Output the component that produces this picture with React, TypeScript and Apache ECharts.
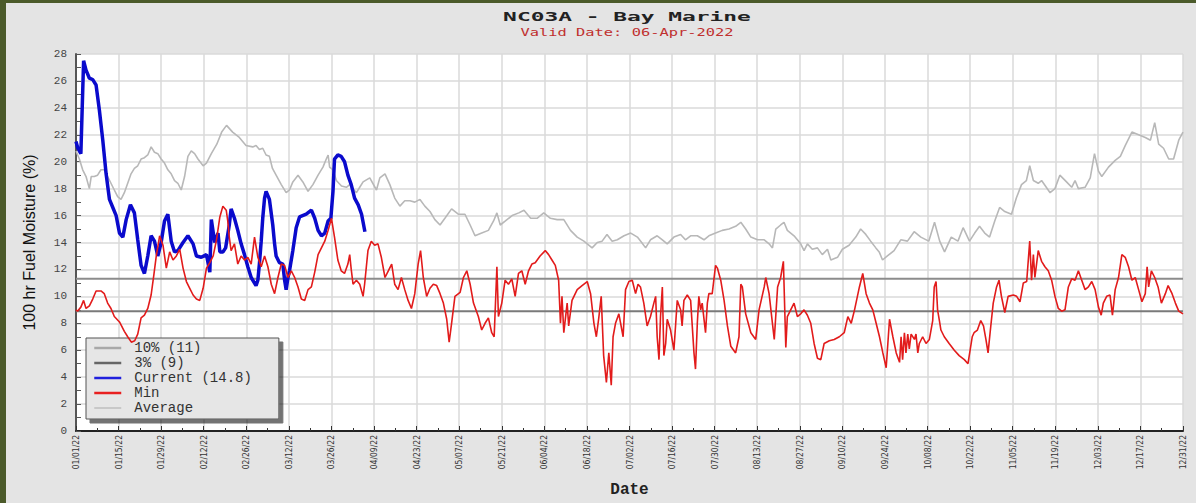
import React, { useEffect, useRef } from "react";
import * as echarts from "echarts";

const tickLabels: string[] = [
  "01/01/22", "01/15/22", "01/29/22", "02/12/22", "02/26/22", "03/12/22", "03/26/22",
  "04/09/22", "04/23/22", "05/07/22", "05/21/22", "06/04/22", "06/18/22", "07/02/22",
  "07/16/22", "07/30/22", "08/13/22", "08/27/22", "09/10/22", "09/24/22", "10/08/22",
  "10/22/22", "11/05/22", "11/19/22", "12/03/22", "12/17/22", "12/31/22",
];

const seriesNames: string[] = ["10% (11)", "3% (9)", "Current (14.8)", "Min", "Average"];

// [day of year (0 = 01/01/22), value]
const pct10Line: [number, number][] = [[0, 11.3], [364, 11.3]];
const pct3Line: [number, number][] = [[0, 8.9], [364, 8.9]];

const currentPoints: [number, number][] = [
  [0, 21.5], [0.6, 21.0], [1.6, 20.6], [2.5, 27.5], [3.3, 26.8], [4.4, 26.2], [5.5, 26.1], [6.6, 25.7],
  [7.7, 23.8], [8.8, 21.6], [9.9, 19.1], [11.0, 17.2], [12.1, 16.6], [13.2, 16.0], [14.3, 14.7], [15.4, 14.4],
  [16.5, 15.7], [17.9, 16.8], [19.2, 16.2], [20.3, 14.2], [21.4, 12.3], [22.5, 11.7], [23.6, 13.0], [24.7, 14.5],
  [25.8, 14.1], [26.9, 13.0], [28.0, 14.0], [29.1, 15.6], [30.2, 16.1], [31.3, 14.1], [32.4, 13.3], [33.5, 13.4],
  [35.2, 14.0], [36.8, 14.5], [38.5, 13.9], [39.6, 13.0], [41.2, 12.9], [42.9, 13.1], [44.0, 11.8], [44.5, 15.7],
  [45.6, 14.0], [46.7, 14.7], [47.3, 13.3], [48.3, 13.3], [49.2, 13.6], [50.4, 15.3], [51.0, 16.5], [52.1, 15.8],
  [53.2, 14.9], [54.3, 13.9], [55.4, 13.1], [56.5, 12.2], [57.6, 11.4], [59.2, 10.8], [59.8, 11.2], [60.3, 12.4],
  [60.9, 14.1], [61.4, 15.8], [62.0, 17.3], [62.5, 17.8], [63.6, 17.2], [64.7, 15.3], [65.3, 13.9], [65.8, 13.0],
  [66.9, 12.5], [68.0, 12.4], [68.6, 11.2], [69.1, 10.5], [69.7, 11.4], [70.2, 11.9], [71.3, 13.4], [72.4, 15.1],
  [73.5, 15.9], [75.7, 16.1], [77.4, 16.4], [78.5, 15.8], [79.6, 14.9], [80.7, 14.5], [81.8, 14.7], [82.9, 15.6],
  [83.8, 15.8], [84.5, 17.8], [85.0, 20.2], [86.1, 20.5], [87.2, 20.4], [88.3, 20.0], [89.4, 19.0], [90.5, 18.3],
  [91.6, 17.3], [92.8, 16.8], [93.9, 16.1], [95.0, 14.8],
];

const minPoints: [number, number][] = [
  [0, 9.0], [0.5, 8.9], [1.6, 9.2], [2.5, 9.7], [3.3, 9.1], [4.4, 9.3], [5.5, 9.8], [6.6, 10.4], [8.2, 10.4],
  [9.3, 10.2], [10.4, 9.5], [11.5, 9.1], [12.6, 8.5], [14.3, 8.1], [15.9, 7.4], [17.0, 7.0], [18.2, 6.6],
  [19.3, 6.7], [20.3, 7.2], [21.4, 8.4], [22.5, 8.6], [23.6, 9.1], [24.7, 10.1], [25.6, 11.6], [26.4, 13.0],
  [27.5, 14.5], [28.6, 13.8], [29.7, 12.1], [30.8, 13.3], [31.9, 12.7], [33.0, 13.0], [34.1, 13.5], [35.2, 12.1],
  [36.3, 11.1], [37.4, 10.6], [38.5, 10.1], [39.6, 9.8], [40.7, 9.7], [41.8, 10.6], [42.9, 12.1], [44.0, 12.5],
  [45.1, 13.0], [46.2, 14.2], [47.3, 15.9], [48.3, 16.7], [49.4, 16.4], [49.9, 15.6], [50.4, 14.4], [51.0, 13.4],
  [52.1, 13.9], [53.2, 12.4], [54.3, 13.0], [55.4, 12.7], [56.5, 12.9], [57.6, 12.4], [58.7, 14.4], [59.8, 12.9],
  [60.9, 12.2], [62.0, 13.0], [63.1, 12.2], [64.2, 10.9], [65.3, 10.2], [66.4, 11.4], [67.5, 12.4], [68.6, 12.3],
  [69.7, 11.4], [70.8, 11.9], [71.9, 11.4], [73.0, 10.7], [74.1, 9.8], [75.2, 9.7], [76.3, 10.5], [77.4, 10.7],
  [78.5, 11.8], [79.6, 13.1], [80.7, 13.6], [81.8, 14.1], [82.9, 14.9], [84.0, 15.8], [85.0, 14.4], [86.1, 12.7],
  [87.2, 11.9], [88.3, 11.7], [89.4, 12.4], [90.0, 13.1], [90.5, 12.0], [91.1, 10.9], [92.2, 11.2], [93.3, 10.9],
  [94.4, 10.0], [94.9, 10.9], [96.0, 13.4], [97.1, 14.1], [98.2, 13.8], [99.3, 13.9], [100.4, 12.9], [101.6, 11.4],
  [102.7, 11.9], [103.8, 12.4], [104.8, 10.9], [105.9, 10.5], [107.0, 11.4], [108.1, 10.5], [109.2, 9.7],
  [110.3, 9.1], [111.4, 10.2], [112.5, 12.4], [113.3, 13.4], [114.2, 11.4], [115.3, 10.0], [116.4, 10.6],
  [117.5, 10.9], [118.6, 10.8], [119.7, 10.2], [120.8, 9.5], [121.9, 8.3], [122.7, 6.6], [123.5, 8.0],
  [124.6, 10.0], [126.3, 10.3], [127.4, 11.4], [128.5, 11.9], [129.6, 10.9], [130.7, 9.5], [132.3, 8.5],
  [133.4, 7.5], [134.5, 8.0], [135.6, 8.4], [136.7, 7.3], [137.5, 7.0], [138.4, 12.2], [138.9, 8.5], [140.0, 9.5],
  [141.1, 11.2], [142.2, 10.9], [143.3, 11.3], [144.4, 10.0], [145.5, 11.7], [146.6, 11.9], [147.7, 10.9],
  [148.8, 11.9], [149.9, 12.4], [151.0, 12.5], [152.6, 13.0], [154.3, 13.4], [155.4, 13.1], [156.5, 12.7],
  [157.6, 12.3], [158.7, 11.2], [159.3, 8.0], [159.8, 10.0], [160.4, 7.3], [161.5, 9.5], [162.0, 7.8],
  [163.1, 9.7], [164.8, 10.5], [166.4, 10.8], [168.1, 11.1], [169.2, 10.2], [170.3, 8.0], [171.1, 7.0],
  [171.9, 8.4], [172.7, 10.0], [173.5, 5.6], [174.4, 3.6], [175.2, 5.8], [176.0, 3.4], [176.6, 7.0], [177.4, 8.0],
  [178.5, 8.7], [179.9, 7.0], [180.7, 10.5], [181.8, 11.1], [182.9, 11.2], [184.0, 10.2], [184.8, 10.9],
  [185.6, 10.7], [186.7, 9.5], [187.8, 7.8], [188.9, 8.5], [190.0, 9.5], [190.6, 10.0], [191.1, 7.0], [191.7, 5.3],
  [192.2, 8.5], [192.8, 10.7], [193.3, 5.6], [193.9, 6.5], [194.4, 8.3], [195.5, 7.5], [196.6, 6.0], [197.2, 8.0],
  [197.7, 9.7], [198.8, 9.0], [199.3, 7.8], [199.9, 9.7], [201.0, 10.1], [202.1, 9.7], [203.2, 5.8], [203.7, 4.6],
  [204.3, 8.0], [204.8, 10.0], [205.4, 9.0], [205.9, 9.5], [207.0, 7.3], [207.6, 9.5], [208.1, 10.2], [209.2, 10.2],
  [210.3, 12.3], [210.9, 12.1], [212.0, 11.2], [213.1, 9.7], [214.2, 7.8], [215.3, 6.3], [216.9, 5.8], [218.0, 7.0],
  [218.6, 10.9], [219.1, 10.7], [220.2, 8.7], [221.9, 7.3], [223.5, 6.8], [224.6, 9.0], [226.3, 10.7],
  [226.8, 11.4], [227.9, 10.2], [229.0, 8.0], [229.6, 6.8], [230.7, 10.7], [231.7, 11.4], [232.6, 12.6],
  [233.4, 6.2], [233.9, 8.5], [235.0, 9.0], [236.1, 9.5], [237.2, 8.5], [238.3, 8.7], [239.4, 9.0], [240.5, 8.6],
  [241.6, 8.0], [242.7, 6.5], [243.8, 5.4], [244.9, 5.3], [246.0, 6.5], [247.7, 6.7], [249.3, 6.8], [251.0, 7.0],
  [252.6, 7.3], [253.8, 8.5], [254.9, 8.0], [256.0, 9.0], [257.6, 10.7], [258.7, 11.7], [259.8, 10.2],
  [260.9, 9.5], [262.0, 9.0], [263.1, 8.0], [264.2, 7.0], [265.3, 5.8], [266.4, 4.7], [267.5, 8.3], [268.6, 7.0],
  [269.7, 5.8], [270.8, 5.1], [271.3, 7.0], [271.8, 5.3], [272.4, 7.3], [272.9, 5.8], [273.5, 7.2], [274.0, 6.1],
  [274.6, 7.2], [275.7, 6.8], [276.2, 7.2], [276.8, 5.8], [277.3, 6.5], [278.4, 7.0], [279.5, 6.5], [280.6, 6.8],
  [281.7, 8.2], [282.2, 10.7], [282.8, 11.1], [283.3, 9.0], [283.9, 8.2], [284.4, 7.5], [285.5, 7.0],
  [287.1, 6.5], [288.8, 6.0], [290.4, 5.6], [292.1, 5.3], [293.3, 5.0], [294.7, 7.0], [295.3, 7.3], [296.4, 7.5],
  [297.5, 8.2], [298.4, 7.8], [299.2, 6.8], [299.9, 5.8], [300.8, 7.8], [301.6, 9.5], [302.7, 10.7],
  [303.5, 11.2], [304.3, 10.0], [305.4, 8.8], [306.5, 10.0], [308.2, 10.1], [309.3, 10.0], [310.4, 9.6],
  [311.5, 11.0], [312.6, 11.1], [313.6, 14.1], [314.2, 11.2], [314.8, 13.1], [315.3, 11.4], [316.4, 13.4],
  [317.5, 12.6], [318.6, 12.2], [319.7, 11.9], [320.8, 11.2], [321.9, 10.0], [323.0, 9.1], [324.1, 8.9],
  [325.2, 9.0], [326.3, 10.7], [327.4, 11.3], [328.5, 11.2], [329.6, 11.9], [330.7, 11.2], [331.8, 10.5],
  [332.9, 10.7], [334.0, 11.1], [335.1, 10.5], [336.2, 9.2], [337.1, 8.6], [337.8, 9.5], [338.9, 10.0],
  [340.0, 10.1], [340.8, 8.6], [341.7, 10.5], [342.8, 11.4], [343.9, 13.1], [345.0, 12.9], [346.1, 12.2],
  [347.2, 11.2], [348.3, 11.4], [349.4, 10.5], [350.5, 9.6], [351.6, 10.2], [352.2, 12.2], [352.7, 10.7],
  [353.6, 11.9], [354.7, 11.4], [355.8, 10.7], [356.9, 9.5], [358.2, 10.2], [359.1, 10.8], [360.4, 10.2],
  [361.5, 9.5], [362.6, 8.9], [364.0, 8.7],
];

const averagePoints: [number, number][] = [
  [0, 20.8], [1.1, 20.2], [2.2, 19.4], [3.3, 18.9], [4.4, 18.0], [5.0, 18.9], [6.0, 18.9], [7.1, 19.0],
  [8.2, 19.4], [9.3, 19.4], [10.4, 18.9], [11.5, 18.4], [12.6, 17.9], [13.7, 17.4], [14.8, 17.2], [15.9, 17.7],
  [17.0, 18.4], [18.1, 19.1], [19.2, 19.5], [20.3, 19.7], [21.4, 20.2], [22.5, 20.3], [23.6, 20.5], [24.7, 21.1],
  [25.8, 20.7], [26.9, 20.6], [28.0, 20.2], [29.1, 19.9], [30.2, 19.4], [31.3, 19.1], [32.4, 18.6], [33.5, 18.4],
  [34.6, 17.9], [35.7, 18.9], [36.8, 20.4], [37.9, 20.8], [39.0, 20.6], [40.1, 20.2], [41.8, 19.7], [42.9, 19.9],
  [44.5, 20.6], [46.3, 21.3], [47.9, 22.2], [49.5, 22.7], [51.5, 22.2], [53.7, 21.8], [55.9, 21.2], [58.1, 21.1],
  [59.2, 21.2], [60.3, 20.9], [61.4, 21.0], [62.5, 20.5], [63.6, 20.4], [64.6, 19.5], [65.8, 19.0], [67.5, 18.3],
  [69.1, 17.7], [70.2, 17.9], [71.3, 18.5], [73.0, 19.0], [74.6, 18.5], [76.3, 17.8], [77.9, 18.3], [79.6, 19.0],
  [81.2, 19.6], [82.3, 20.2], [82.9, 20.5], [83.4, 19.6], [84.5, 19.4], [85.6, 18.6], [87.3, 18.2], [88.9, 18.1],
  [90.0, 18.3], [91.1, 18.0], [92.2, 17.7], [93.3, 18.1], [94.4, 18.5], [96.6, 18.8], [98.8, 17.9], [99.9, 18.8],
  [101.6, 19.1], [103.2, 18.3], [104.8, 17.3], [106.5, 16.7], [108.1, 17.1], [109.8, 17.1], [111.4, 17.0],
  [113.1, 17.2], [114.7, 16.7], [116.4, 16.3], [118.0, 15.7], [119.7, 15.3], [121.3, 15.8], [123.5, 16.5],
  [125.7, 16.1], [127.9, 16.1], [129.6, 15.3], [131.2, 14.5], [133.4, 14.7], [135.6, 14.9], [137.3, 15.6],
  [138.4, 16.2], [139.5, 15.3], [141.2, 15.6], [143.4, 16.0], [145.6, 16.2], [147.3, 16.4], [149.5, 15.8],
  [151.6, 15.8], [153.8, 16.2], [156.0, 15.8], [158.2, 15.7], [160.4, 15.7], [162.6, 14.9], [164.8, 14.4],
  [167.0, 14.1], [169.7, 13.6], [171.4, 14.0], [173.0, 14.1], [174.6, 14.6], [176.3, 14.1], [178.0, 14.2],
  [180.2, 14.5], [182.4, 14.7], [184.6, 14.4], [186.0, 14.0], [187.3, 13.6], [188.9, 14.2], [191.1, 14.5],
  [192.8, 14.2], [194.4, 13.9], [196.6, 14.4], [198.8, 14.6], [200.4, 14.2], [202.1, 14.5], [204.3, 14.5],
  [206.5, 14.2], [208.1, 14.5], [210.3, 14.7], [212.5, 14.9], [214.7, 15.0], [216.9, 15.2], [218.6, 15.5],
  [220.2, 15.0], [221.9, 14.4], [224.1, 14.2], [226.3, 14.2], [227.9, 13.9], [229.0, 13.6], [230.1, 15.0],
  [231.7, 15.3], [232.8, 15.5], [233.9, 14.9], [236.1, 14.5], [238.3, 13.9], [239.4, 13.4], [240.5, 13.9],
  [242.1, 13.5], [243.8, 13.6], [245.4, 13.1], [247.1, 13.5], [248.2, 12.7], [250.4, 12.9], [252.0, 13.5],
  [254.2, 13.8], [256.4, 14.4], [258.0, 15.0], [259.7, 14.6], [261.3, 14.1], [263.0, 13.6], [264.1, 13.3],
  [265.2, 12.7], [266.8, 13.0], [269.0, 13.4], [271.2, 14.2], [273.4, 14.1], [275.6, 14.8], [277.8, 14.4],
  [280.4, 14.1], [282.3, 15.5], [284.0, 14.1], [285.6, 13.3], [287.8, 14.4], [290.0, 14.1], [291.7, 15.1],
  [293.8, 14.1], [295.5, 14.7], [297.1, 15.2], [298.8, 14.7], [300.4, 14.4], [302.1, 15.6], [303.7, 16.6],
  [305.4, 16.3], [307.6, 16.1], [309.2, 17.3], [310.9, 18.3], [312.5, 18.6], [313.6, 19.7], [314.8, 18.6],
  [316.4, 18.4], [317.5, 18.6], [320.3, 17.7], [321.9, 18.0], [323.5, 19.0], [325.7, 18.5], [327.4, 18.1],
  [328.5, 18.6], [329.6, 18.0], [331.8, 18.1], [333.5, 18.8], [334.9, 20.6], [336.2, 19.3], [337.3, 18.9],
  [339.5, 19.6], [341.7, 20.1], [343.4, 20.4], [345.0, 21.2], [347.2, 22.2], [349.4, 22.0], [351.6, 21.8],
  [353.3, 21.6], [354.7, 22.9], [356.0, 21.3], [357.6, 21.0], [359.3, 20.2], [360.9, 20.2], [362.6, 21.6],
  [364.0, 22.2],
];

const GREEN = "#4b5a2a";
const BG = "#e4e4e4";

function buildOption(): any {
  const line = (name: string, data: [number, number][], color: string, width: number, z: number) => ({
    name,
    type: "line",
    data,
    color,
    symbol: "none",
    showSymbol: false,
    z,
    lineStyle: { color, width },
    emphasis: { disabled: true },
  });

  const legendLine = (name: string, color: string, width: number) => ({
    name,
    lineStyle: { color, width },
    itemStyle: { opacity: 0 },
  });

  return {
    animation: false,
    backgroundColor: BG,
    grid: {
      left: 76,
      top: 54,
      right: 13,
      bottom: 67,
      show: true,
      backgroundColor: "#ffffff",
      borderWidth: 0,
    },
    xAxis: {
      type: "value",
      min: 0,
      max: 364,
      interval: 14,
      name: "Date",
      nameLocation: "middle",
      nameGap: 51,
      nameTextStyle: {
        fontFamily: "Liberation Mono",
        fontWeight: "bold",
        fontSize: 16,
        color: "#222",
        verticalAlign: "top",
      },
      axisLine: { show: true, onZero: false, lineStyle: { color: "#222", width: 2 } },
      axisTick: { show: true, inside: true, length: 5, lineStyle: { color: "#333" } },
      minorTick: { show: true, splitNumber: 2, length: 3, lineStyle: { color: "#333" } },
      axisLabel: {
        rotate: 90,
        margin: 4,
        fontSize: 8.5,
        fontFamily: "DejaVu Sans Condensed",
        color: "#333",
        formatter: (v: number) => tickLabels[Math.round(v / 14)] ?? "",
      },
      splitLine: { show: true, lineStyle: { color: "#dadada", width: 1.5 } },
    },
    yAxis: {
      type: "value",
      min: 0,
      max: 28,
      interval: 2,
      name: "100 hr Fuel Moisture (%)",
      nameLocation: "middle",
      nameGap: 39,
      nameTextStyle: { fontFamily: "Liberation Sans", fontSize: 16, color: "#111" },
      axisLine: { show: true, lineStyle: { color: "#555", width: 2 } },
      axisTick: { show: true, inside: true, length: 5, lineStyle: { color: "#555" } },
      minorTick: { show: true, splitNumber: 2, length: 5, lineStyle: { color: "#555" } },
      axisLabel: { fontFamily: "Liberation Mono", fontSize: 11, color: "#444", margin: 9 },
      splitLine: { show: true, lineStyle: { color: "#dadada", width: 1.5 } },
    },
    legend: {
      orient: "vertical",
      left: 86,
      top: 338,
      itemWidth: 27,
      itemHeight: 10,
      itemGap: 1,
      padding: [3, 27, 4, 7],
      backgroundColor: "#e6e6e6",
      borderColor: "#555",
      borderWidth: 1,
      shadowColor: "rgba(0,0,0,0.55)",
      shadowBlur: 1,
      shadowOffsetX: 4,
      shadowOffsetY: 4,
      selectedMode: false,
      itemStyle: { opacity: 0 },
      textStyle: {
        fontFamily: "Liberation Mono",
        fontSize: 14,
        color: "#333",
        padding: [0, 0, 0, 8],
      },
      data: [
        legendLine(seriesNames[0], "#a8a8a8", 2.5),
        legendLine(seriesNames[1], "#666666", 2.5),
        legendLine(seriesNames[2], "#2020dd", 2.5),
        legendLine(seriesNames[3], "#e82020", 2.5),
        legendLine(seriesNames[4], "#c8c8c8", 2),
      ],
    },
    graphic: [
      { type: "rect", silent: true, shape: { x: 0, y: 0, width: 1196, height: 3 }, style: { fill: GREEN } },
      { type: "rect", silent: true, shape: { x: 0, y: 0, width: 6, height: 503 }, style: { fill: GREEN } },
      {
        type: "text",
        x: 627,
        y: 16,
        scaleX: 1.76,
        style: {
          text: "NC03A - Bay Marine",
          fontFamily: "DejaVu Sans Mono",
          fontWeight: "bold",
          fontSize: 13,
          fill: "#222",
          align: "center",
          verticalAlign: "middle",
        },
      },
      {
        type: "text",
        x: 627,
        y: 32,
        scaleX: 1.4,
        style: {
          text: "Valid Date: 06-Apr-2022",
          fontFamily: "DejaVu Sans Mono",
          fontSize: 11,
          fill: "#c0302f",
          align: "center",
          verticalAlign: "middle",
        },
      },
    ],
    series: [
      line(seriesNames[0], pct10Line, "#8c8c8c", 2, 1),
      line(seriesNames[1], pct3Line, "#7a7a7a", 2, 1),
      line(seriesNames[2], currentPoints, "#0a0acc", 3.5, 3),
      line(seriesNames[3], minPoints, "#e21b1b", 1.6, 4),
      line(seriesNames[4], averagePoints, "#b8b8b8", 1.6, 2),
    ],
  };
}

export default function App() {
  const ref = useRef<HTMLDivElement>(null);
  useEffect(() => {
    if (!ref.current) return;
    const chart = echarts.init(ref.current, null, { renderer: "svg" });
    chart.setOption(buildOption());
    return () => chart.dispose();
  }, []);
  return (
    <div
      ref={ref}
      style={{ position: "absolute", left: 0, top: 0, width: 1196, height: 503 }}
    />
  );
}
